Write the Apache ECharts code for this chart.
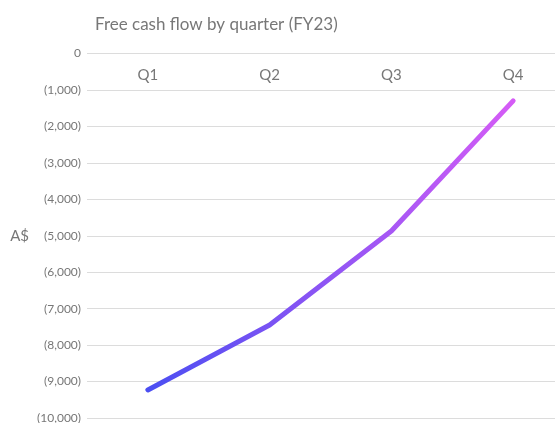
<!DOCTYPE html>
<html>
<head>
<meta charset="utf-8">
<script src="https://cdn.jsdelivr.net/npm/echarts@6/dist/echarts.min.js"></script>
<style>
  html, body { margin: 0; padding: 0; background: #fff; }
  #myChart { width: 555px; height: 423px; }
</style>
</head>
<body>
<div id="myChart"></div>
<script>
// 季度
var quarters = ['Q1', 'Q2', 'Q3', 'Q4']
// 自由现金流 (A$)
var freeCashFlow = [-9230, -7450, -4870, -1300]
// y轴刻度
var yMin = -10000
var yMax = 0
var yStep = 1000

function fmtTick(v) {
  if (v === 0) return '0'
  var s = Math.abs(v).toLocaleString('en-US')
  return v < 0 ? '(' + s + ')' : s
}

var myChart = echarts.init(document.getElementById('myChart'))
var option = {
  animation: false,
  textStyle: { fontFamily: 'Lato' },
  title: {
    text: 'Free cash flow by quarter (FY23)',
    left: 90,
    top: 11,
    textStyle: { color: '#777', fontSize: 17, fontWeight: 'normal', fontFamily: 'Lato' },
  },
  grid: {
    left: 87,
    width: 487,
    top: 53.5,
    bottom: 5,
    outerBoundsMode: 'none',
    containLabel: false,
  },
  /*x坐标轴*/
  xAxis: {
    type: 'category',
    data: quarters,
    position: 'top',
    boundaryGap: true,
    axisLine: { show: false },
    axisTick: { show: false },
    axisLabel: {
      inside: true,
      margin: 14,
      color: '#777',
      fontSize: 15,
    },
  },
  /*y坐标轴*/
  yAxis: {
    type: 'value',
    min: yMin,
    max: yMax,
    interval: yStep,
    name: 'A$',
    nameLocation: 'middle',
    nameRotate: 0,
    nameGap: 58,
    nameTextStyle: { color: '#777', fontSize: 15 },
    axisLine: { show: false },
    axisTick: { show: false },
    axisLabel: {
      color: '#777',
      fontSize: 12,
      margin: 6,
      formatter: fmtTick,
    },
    splitLine: {
      show: true,
      lineStyle: { color: '#dcdcdc', width: 1 },
    },
  },
  series: [
    {
      type: 'line',
      data: freeCashFlow,
      symbol: 'none',
      lineStyle: {
        width: 5,
        cap: 'round',
        color: new echarts.graphic.LinearGradient(0, 0, 1, 0, [
          { offset: 0, color: '#4a4ef2' },
          { offset: 1, color: '#d65cf6' },
        ]),
      },
    },
  ],
}
myChart.setOption(option, true)
</script>
</body>
</html>
